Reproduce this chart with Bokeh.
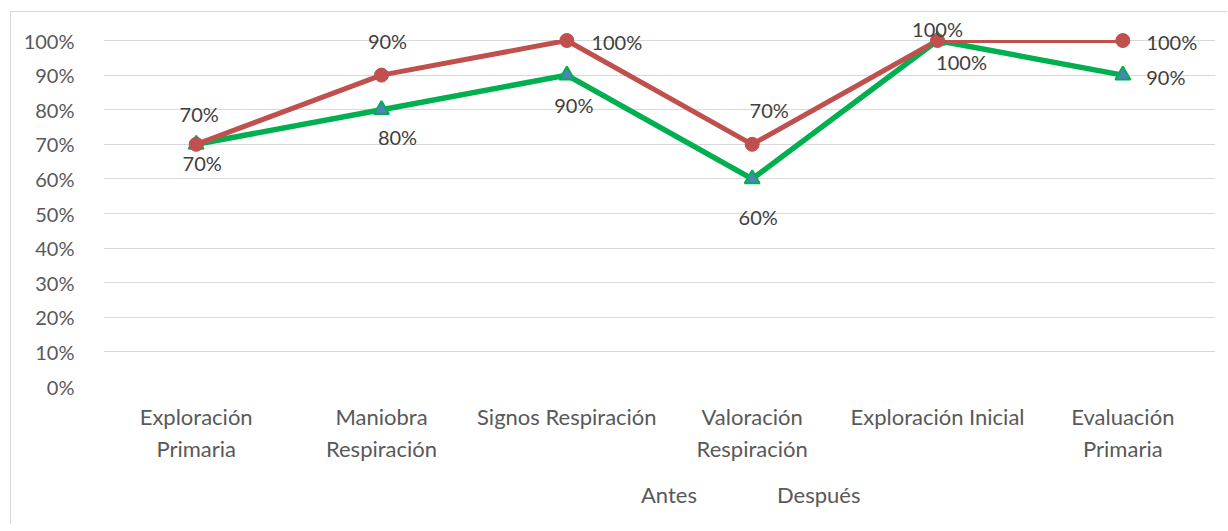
from bokeh.plotting import figure
from bokeh.layouts import column
from bokeh.models import (ColumnDataSource, Range1d, FactorRange, FixedTicker,
                          NumeralTickFormatter, Legend, LegendItem)
from bokeh.core.properties import value
from bokeh.embed import file_html
from bokeh.resources import INLINE

# ---- data ----
categories = ["Exploración\nPrimaria", "Maniobra\nRespiración", "Signos Respiración",
              "Valoración\nRespiración", "Exploración Inicial", "Evaluación\nPrimaria"]
antes = [0.70, 0.80, 0.90, 0.60, 1.00, 0.90]
despues = [0.70, 0.90, 1.00, 0.70, 1.00, 1.00]
y_ticks = [0.0, 0.1, 0.2, 0.3, 0.4, 0.5, 0.6, 0.7, 0.8, 0.9, 1.0]
series_names = ["Antes", "Después"]

# label placement (screen pixel offsets from each point)
antes_dx = [6, 16, 7, 6, 24, 43]
antes_dy = [19, 27, 30, 38, 21, 2]
desp_dx = [3, 6, 50, 17, 0, 49]
desp_dy = [-30, -34, 1, -34, -12, 1]

FONT = "Lato"
GREEN = "#00B050"
RED = "#C0504D"
BLUE = "#4F81BD"
BORDER = "1px solid #d9d9d9"

y_max = 1.0
y_top = 1.081

p = figure(x_range=FactorRange(*categories, range_padding=0),
           y_range=Range1d(0, y_top),
           width=1217, height=458, output_backend="svg", toolbar_location=None,
           min_border_left=92, min_border_right=13, min_border_top=0, min_border_bottom=84)
p.margin = (11, 0, 0, 10)
p.styles = {"border-left": BORDER, "border-top": BORDER}
p.outline_line_color = None
p.background_fill_color = "white"
p.border_fill_color = "white"

p.xgrid.grid_line_color = None
p.ygrid.grid_line_color = "#d9d9d9"
p.ygrid.grid_line_width = 1
p.yaxis.ticker = FixedTicker(ticks=y_ticks)
p.yaxis.formatter = NumeralTickFormatter(format="0%")

for ax in (p.xaxis[0], p.yaxis[0]):
    ax.axis_line_color = None
    ax.major_tick_line_color = None
    ax.minor_tick_line_color = None
    ax.major_label_text_font = FONT
    ax.major_label_text_color = "#595959"
p.yaxis.major_label_text_font_size = "20px"
p.xaxis.major_label_text_font_size = "22px"
p.yaxis.major_label_standoff = 23
p.xaxis.major_label_standoff = 10

src = ColumnDataSource(dict(x=categories, antes=antes, despues=despues,
                            antes_lbl=[f"{v*100:.0f}%" for v in antes],
                            desp_lbl=[f"{v*100:.0f}%" for v in despues],
                            adx=antes_dx, ady=antes_dy, ddx=desp_dx, ddy=desp_dy))

p.line("x", "antes", source=src, line_color=GREEN, line_width=5.5)
p.line("x", "despues", source=src, line_color=RED, line_width=5)

# the plot area ends at 100%: lines are cut there, markers and labels are not
# (numeric synthetic coordinates span the whole categorical range)
p.quad(left=[0], right=[len(categories)], bottom=[y_max + 0.0015], top=[y_top],
       fill_color="white", line_alpha=0)

p.scatter("x", "antes", source=src, marker="triangle", size=15,
          fill_color=BLUE, line_color=GREEN, line_width=2)
p.scatter("x", "despues", source=src, marker="circle", size=14,
          fill_color=RED, line_color=RED)

p.text("x", "antes", text="antes_lbl", source=src, x_offset="adx", y_offset="ady",
       text_align="center", text_baseline="middle", text_font=value(FONT),
       text_font_size="20px", text_color="#404040")
p.text("x", "despues", text="desp_lbl", source=src, x_offset="ddx", y_offset="ddy",
       text_align="center", text_baseline="middle", text_font=value(FONT),
       text_font_size="20px", text_color="#404040")

# ---- legend strip under the chart ----
lg = figure(width=1217, height=55, x_range=Range1d(0, 1), y_range=Range1d(0, 1),
            output_backend="svg", toolbar_location=None,
            x_axis_location=None, y_axis_location=None, min_border=0)
lg.margin = (0, 0, 0, 10)
lg.styles = {"border-left": BORDER}
lg.grid.visible = False
lg.outline_line_color = None
lg.background_fill_color = "white"
lg.border_fill_color = "white"

empty = ColumnDataSource(dict(x=[], y=[]))
k_la = lg.line("x", "y", source=empty, line_color=GREEN, line_width=5.5)
k_ma = lg.scatter("x", "y", source=empty, marker="triangle", size=15,
                  fill_color=BLUE, line_color=GREEN, line_width=2)
k_ld = lg.line("x", "y", source=empty, line_color=RED, line_width=5)
k_md = lg.scatter("x", "y", source=empty, marker="circle", size=14,
                  fill_color=RED, line_color=RED)

legend = Legend(items=[LegendItem(label=series_names[0], renderers=[k_la, k_ma]),
                       LegendItem(label=series_names[1], renderers=[k_ld, k_md])],
                orientation="horizontal", location=(480, 16),
                glyph_width=55, glyph_height=20, label_standoff=3, spacing=22,
                padding=0, margin=0, border_line_color=None,
                background_fill_alpha=0, label_text_font=FONT,
                label_text_font_size="22px", label_text_color="#595959")
lg.add_layout(legend, "center")

layout = column(p, lg, spacing=0)
open("out.html", "w").write(file_html(layout, INLINE))
